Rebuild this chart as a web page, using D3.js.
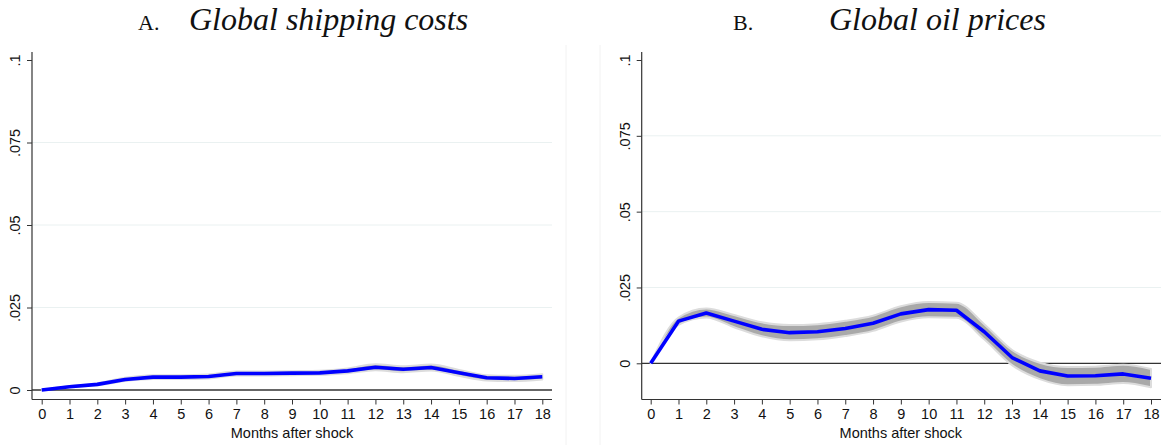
<!DOCTYPE html>
<html><head><meta charset="utf-8">
<script src="https://cdn.jsdelivr.net/npm/d3@7"></script>
<style>body{margin:0;background:#fff}svg{display:block}</style>
</head><body>
<script>
const months = d3.range(0, 19);
const yTicks = [0, 0.025, 0.05, 0.075, 0.1];
const yTickLabels = ["0", ".025", ".05", ".075", ".1"];
const shipping = [0, 0.001, 0.0017, 0.0032, 0.0039, 0.0039, 0.0041, 0.005, 0.005, 0.0051, 0.0052, 0.0058, 0.0069, 0.0063, 0.0068, 0.0052, 0.0037, 0.0035, 0.004];
const shippingLo = [0, 0.0008, 0.0014, 0.0027, 0.0033, 0.0033, 0.0035, 0.0044, 0.0044, 0.0045, 0.0046, 0.0051, 0.006, 0.0054, 0.0059, 0.0043, 0.0029, 0.0027, 0.0032];
const shippingHi = [0, 0.0012, 0.002, 0.0037, 0.0045, 0.0045, 0.0047, 0.0056, 0.0056, 0.0057, 0.0058, 0.0065, 0.0078, 0.0072, 0.0077, 0.0061, 0.0045, 0.0043, 0.0048];
const oil = [0, 0.0139, 0.0166, 0.0139, 0.0112, 0.0101, 0.0104, 0.0115, 0.0132, 0.0163, 0.0177, 0.0175, 0.0104, 0.0019, -0.0025, -0.0042, -0.0041, -0.0035, -0.0049];
const oilLo = [0, 0.0127, 0.0151, 0.0119, 0.0089, 0.0076, 0.0079, 0.009, 0.0107, 0.0138, 0.0152, 0.015, 0.0079, -0.0006, -0.0052, -0.0072, -0.0071, -0.0065, -0.0079];
const oilHi = [0, 0.0151, 0.0181, 0.0159, 0.0135, 0.0126, 0.0129, 0.014, 0.0157, 0.0188, 0.0202, 0.02, 0.0129, 0.0044, 0.0002, -0.0012, -0.0011, -0.0005, -0.0019];
const xLabel = "Months after shock";

const svg = d3.select("body").append("svg").attr("width", 1166).attr("height", 445);

function panel(cfg) {
  const g = svg.append("g");
  const x = d3.scaleLinear().domain([0, 18]).range([cfg.x0, cfg.x18]);
  const y = d3.scaleLinear().domain([0, 0.1]).range([cfg.y0, 60]);
  const yBottom = 399.5;
  const axisColor = "#333";
  g.append("line").attr("x1", cfg.frameX).attr("x2", cfg.frameX).attr("y1", 45).attr("y2", 445).attr("stroke", "#f2f2f2");
  g.selectAll(".grid").data(yTicks.filter(d => d > 0 && d < 0.1)).join("line")
    .attr("x1", cfg.axisX).attr("x2", cfg.right).attr("y1", d => y(d)).attr("y2", d => y(d))
    .attr("stroke", "#eaf1f1").attr("stroke-width", 1);
  g.append("line").attr("x1", cfg.axisX).attr("x2", cfg.right).attr("y1", y(0)).attr("y2", y(0))
    .attr("stroke", "#333").attr("stroke-width", 1.3);
  const area = d3.area().x((d, i) => x(months[i])).y0((d, i) => y(cfg.lo[i])).y1((d, i) => y(cfg.hi[i])).curve(d3.curveMonotoneX);
  g.append("path").datum(cfg.vals).attr("d", area).attr("fill", "#a9a9a9").attr("stroke", "#dcdcdc").attr("stroke-width", 2).attr("stroke-linejoin", "round");
  const line = d3.line().x((d, i) => x(months[i])).y(d => y(d));
  g.append("path").datum(cfg.vals).attr("d", line).attr("fill", "none").attr("stroke", "#0000ff").attr("stroke-width", 3.6).attr("stroke-linejoin", "round");
  const ya = g.append("g").attr("transform", `translate(${cfg.axisX},0)`)
    .call(d3.axisLeft(y).tickValues(yTicks).tickFormat((d, i) => yTickLabels[i]).tickSize(5).tickPadding(0));
  ya.select(".domain").remove();
  ya.append("line").attr("x1", 0).attr("x2", 0).attr("y1", 52).attr("y2", yBottom).attr("stroke", axisColor).attr("stroke-width", 1.2);
  ya.selectAll(".tick line").attr("stroke", axisColor);
  ya.selectAll(".tick text").attr("transform", "rotate(-90)").attr("x", 0).attr("y", -17).attr("dy", "0.35em")
    .attr("text-anchor", "middle").attr("font-family", "Liberation Sans, Arial, sans-serif").attr("font-size", 14.5).attr("fill", "#111");
  const xa = g.append("g").attr("transform", `translate(0,${yBottom})`)
    .call(d3.axisBottom(x).tickValues(months).tickFormat(d3.format("d")).tickSize(5).tickPadding(4));
  xa.select(".domain").remove();
  xa.append("line").attr("x1", cfg.axisX).attr("x2", cfg.right).attr("y1", 0).attr("y2", 0).attr("stroke", axisColor).attr("stroke-width", 1.2);
  xa.selectAll(".tick line").attr("stroke", axisColor);
  xa.selectAll(".tick text").attr("font-family", "Liberation Sans, Arial, sans-serif").attr("font-size", 14.5).attr("fill", "#111");
  g.append("text").attr("x", (cfg.x0 + cfg.x18) / 2).attr("y", 438).attr("text-anchor", "middle")
    .attr("font-family", "Liberation Sans, Arial, sans-serif").attr("font-size", 14.5).attr("fill", "#111").text(xLabel);
  const t = g.append("text").attr("y", 30).attr("font-family", "Liberation Serif, Times New Roman, serif").attr("fill", "#111");
  t.append("tspan").attr("x", cfg.letterX).attr("font-size", 22).text(cfg.letter);
  t.append("tspan").attr("x", cfg.titleX).attr("font-size", 32).attr("font-style", "italic").text(cfg.title);
}

panel({axisX: 32, right: 552, x0: 41.7, x18: 542.3, y0: 390, lo: shippingLo, hi: shippingHi, vals: shipping,
  letter: "A.", letterX: 138, title: "Global shipping costs", titleX: 189, frameX: 566});
panel({axisX: 641.7, right: 1161, x0: 650.7, x18: 1151, y0: 363.3, lo: oilLo, hi: oilHi, vals: oil,
  letter: "B.", letterX: 733, title: "Global oil prices", titleX: 829, frameX: 600});
</script>
</body></html>
